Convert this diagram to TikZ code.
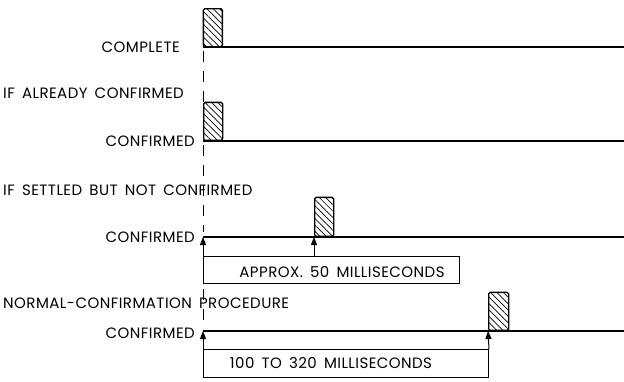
\documentclass[tikz,border=0pt]{standalone}
\usepackage{fontspec}
\setmainfont{Poppins}[WordSpace=1.6,LetterSpace=3]
\usetikzlibrary{patterns.meta,arrows.meta}
\begin{document}
\begin{tikzpicture}[x=1pt,y=-1pt,
  sig/.style={line width=1.6pt},
  hatchbox/.style={draw,line width=1.3pt,rounded corners=1.5pt,
    pattern={Lines[angle=-45,distance=4.5pt,line width=0.7pt]},
    minimum width=19pt,minimum height=38pt,inner sep=0pt,anchor=south west},
  mbox/.style={draw,line width=1pt,inner sep=0pt,anchor=north west},
  lbl/.style={inner sep=0pt,font=\fontsize{15}{17}\selectfont},
  arr/.style={line width=1pt,-{Triangle[length=8pt,width=6pt]}},
  dsh/.style={line width=0.9pt,dash pattern=on 11pt off 9pt}]
\useasboundingbox (0,0) rectangle (624,381);
% row 1
\node[hatchbox] (h1) at (203,47) {};
\coordinate (e1) at (624,47);
\draw[sig] (h1.south west) -- (e1);
\node[lbl,anchor=east] (t1) at (180,47.5) {COMPLETE};
% row 2
\node[lbl,anchor=west] (t2) at (3,93.5) {IF ALREADY CONFIRMED};
\node[hatchbox] (h2) at (203,141) {};
\coordinate (e2) at (624,141);
\draw[sig] (h2.south west) -- (e2);
\node[lbl,anchor=east] (t3) at (195,141.5) {CONFIRMED};
% row 3
\node[lbl,anchor=west] (t4) at (3,190.5) {IF SETTLED BUT NOT CONFIRMED};
\coordinate (s3) at (203,237);
\coordinate (e3) at (624,237);
\draw[sig] (s3) -- (e3);
\node[hatchbox,minimum height=39pt] (h3) at (314,237) {};
\node[lbl,anchor=east] (t5) at (195,237.5) {CONFIRMED};
\node[mbox,minimum width=256pt,minimum height=27pt] (m1) at (203,256) {};
\node[lbl] (tm1) at (342,272) {APPROX. 50 MILLISECONDS};
\draw[arr] (m1.north west) -- (s3);
\draw[arr] (m1.north west -| h3.south west) -- (h3.south west);
% row 4
\node[lbl,anchor=west] (t6) at (3,303) {NORMAL-CONFIRMATION PROCEDURE};
\coordinate (s4) at (203,331);
\coordinate (e4) at (624,331);
\draw[sig] (s4) -- (e4);
\node[hatchbox,minimum width=20pt] (h4) at (488,331) {};
\node[lbl,anchor=east] (t7) at (195,333.5) {CONFIRMED};
\node[mbox,minimum width=285pt,minimum height=28pt] (m2) at (203,349) {};
\node[lbl] (tm2) at (331,363) {100 TO 320 MILLISECONDS};
\draw[arr] (m2.north west) -- (s4);
\draw[arr] (m2.north east) -- (h4.south west);
% dashed guide
\draw[dsh] ([yshift=-4pt]h1.south west) -- (h2.north west);
\draw[dsh] ([yshift=-4pt]h2.south west) -- ([yshift=5pt]s3);
\draw[dsh] ([yshift=-5pt]m1.south west) -- ([yshift=5pt]s4);
\end{tikzpicture}
\end{document}
